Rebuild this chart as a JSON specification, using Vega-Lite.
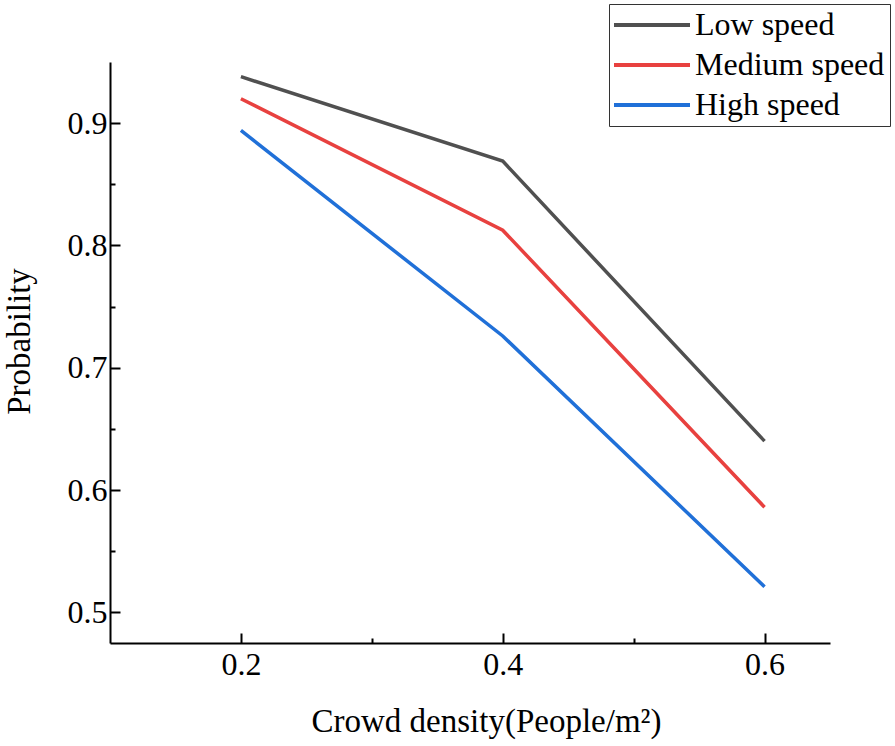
{
  "$schema": "https://vega.github.io/schema/vega-lite/v6.json",
  "width": 720,
  "height": 581,
  "padding": {"left": 110, "top": 62, "right": 65, "bottom": 103},
  "autosize": {"type": "none"},
  "background": "white",
  "config": {
    "view": {"stroke": null},
    "font": "Liberation Serif"
  },
  "data": {
    "values": [
      {"density": 0.2, "p": 0.938, "speed": "Low speed"},
      {"density": 0.4, "p": 0.869, "speed": "Low speed"},
      {"density": 0.6, "p": 0.640, "speed": "Low speed"},
      {"density": 0.2, "p": 0.920, "speed": "Medium speed"},
      {"density": 0.4, "p": 0.8125, "speed": "Medium speed"},
      {"density": 0.6, "p": 0.586, "speed": "Medium speed"},
      {"density": 0.2, "p": 0.894, "speed": "High speed"},
      {"density": 0.4, "p": 0.726, "speed": "High speed"},
      {"density": 0.6, "p": 0.521, "speed": "High speed"}
    ]
  },
  "mark": {"type": "line", "strokeWidth": 3.5, "clip": false},
  "encoding": {
    "x": {
      "field": "density",
      "type": "quantitative",
      "scale": {"domain": [0.1, 0.65], "nice": false, "zero": false},
      "axis": {
        "title": "Crowd density(People/m²)",
        "titleFont": "Liberation Serif",
        "titleFontSize": 33,
        "titleFontWeight": "normal",
        "titleColor": "black",
        "titlePadding": 20,
        "titleX": 376,
        "values": [0.2, 0.3, 0.4, 0.5, 0.6],
        "labelExpr": "(abs(datum.value*10 - round(datum.value*10)) < 0.01 && round(datum.value*10) % 2 == 0) ? format(datum.value, '.1f') : ''",
        "labelFont": "Liberation Serif",
        "labelFontSize": 32,
        "labelColor": "black",
        "labelPadding": 16,
        "labelFlush": false,
        "labelOverlap": false,
        "tickSize": {"condition": {"test": "round(datum.value*10) % 2 == 0", "value": -10}, "value": -5},
        "tickColor": "black",
        "tickWidth": 2,
        "domainColor": "black",
        "domainWidth": 2,
        "grid": false
      }
    },
    "y": {
      "field": "p",
      "type": "quantitative",
      "scale": {"domain": [0.475, 0.95], "nice": false, "zero": false},
      "axis": {
        "title": "Probability",
        "titleFont": "Liberation Serif",
        "titleFontSize": 33,
        "titleFontWeight": "normal",
        "titleColor": "black",
        "titlePadding": 31,
        "titleY": 279,
        "values": [0.5, 0.55, 0.6, 0.65, 0.7, 0.75, 0.8, 0.85, 0.9],
        "labelExpr": "(abs(datum.value*10 - round(datum.value*10)) < 0.01) ? format(datum.value, '.1f') : ''",
        "labelFont": "Liberation Serif",
        "labelFontSize": 32,
        "labelColor": "black",
        "labelPadding": 13,
        "labelOverlap": false,
        "tickSize": {"condition": {"test": "abs(datum.value*10 - round(datum.value*10)) < 0.01", "value": -10}, "value": -5},
        "tickColor": "black",
        "tickWidth": 2,
        "domainColor": "black",
        "domainWidth": 2,
        "grid": false
      }
    },
    "color": {
      "field": "speed",
      "type": "nominal",
      "sort": ["Low speed", "Medium speed", "High speed"],
      "scale": {"domain": ["Low speed", "Medium speed", "High speed"], "range": ["#505050", "#e8413f", "#2070d8"]},
      "legend": {
        "title": null,
        "orient": "none",
        "legendX": 499,
        "legendY": -58,
        "symbolType": "stroke",
        "symbolSize": 5929,
        "symbolStrokeWidth": 4,
        "symbolOffset": -3,
        "clipHeight": 32,
        "labelFont": "Liberation Serif",
        "labelFontSize": 32,
        "labelColor": "black",
        "labelOffset": 3,
        "labelLimit": 300,
        "rowPadding": 8,
        "padding": 5,
        "strokeColor": "#333333",
        "fillColor": "white"
      }
    }
  }
}
